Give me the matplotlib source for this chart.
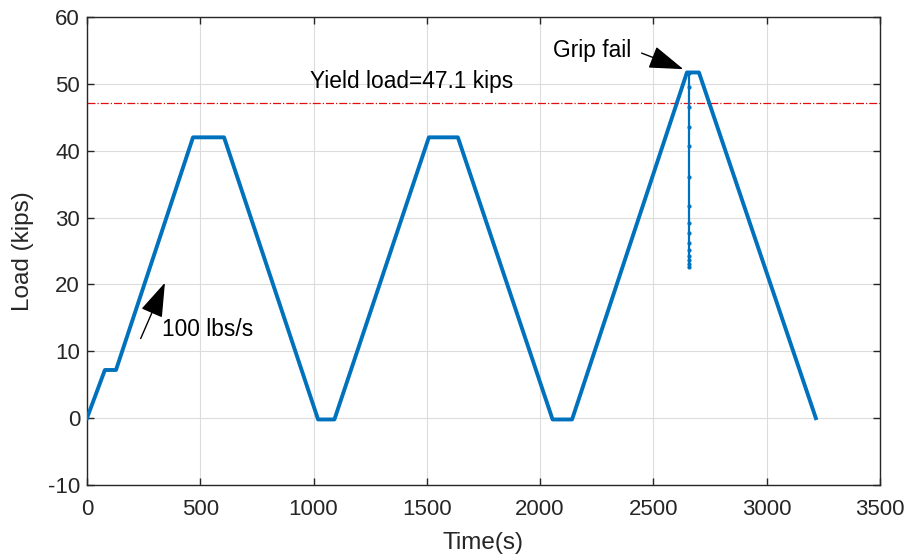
import matplotlib
matplotlib.use("Agg")
import matplotlib.pyplot as plt
from matplotlib.patches import ArrowStyle

plt.rcParams['font.family'] = ['Liberation Sans', 'DejaVu Sans']
plt.rcParams['axes.unicode_minus'] = False

# Main load history
time_s = [0, 79, 128, 468, 605, 1020, 1092, 1509, 1637, 2055, 2141, 2648, 2701, 3217]
load_kips = [0, 7.2, 7.2, 42.0, 42.0, -0.2, -0.2, 42.0, 42.0, -0.2, -0.2, 51.7, 51.7, 0]

# Grip failure drop (sampled points)
drop_time = [2657] * 15
drop_load = [51.6, 49.5, 46.5, 43.6, 40.7, 36.0, 31.8, 29.2, 27.7, 26.2, 25.2, 24.2, 23.7, 23.1, 22.6]

yield_load = 47.1

xticks = [0, 500, 1000, 1500, 2000, 2500, 3000, 3500]
yticks = [-10, 0, 10, 20, 30, 40, 50, 60]

fig = plt.figure(figsize=(9.07, 5.59), dpi=100)
ax = fig.add_axes([0.0959, 0.1324, 0.8743, 0.8372])

blue = '#0072BD'
ax.plot(time_s, load_kips, color=blue, lw=2.8, solid_joinstyle='round', zorder=3)
ax.plot(drop_time, drop_load, color=blue, lw=1.6, marker='.', markersize=4, zorder=3)
ax.axhline(yield_load, color='#e01010', lw=0.9, ls='-.', zorder=2)

ax.set_xlim(0, 3500)
ax.set_ylim(-10, 60)
ax.set_xticks(xticks)
ax.set_yticks(yticks)
ax.grid(True, color='#dcdcdc', lw=0.8)
ax.set_axisbelow(True)
ax.tick_params(direction='in', top=True, right=True, labelsize=16, colors='#262626',
               length=5, width=1, pad=5)
ax.tick_params(axis='x', pad=10)
for s in ax.spines.values():
    s.set_color('#262626')
    s.set_linewidth(1)

ax.set_xlabel('Time(s)', fontsize=17.5, color='#262626', labelpad=9)
ax.set_ylabel('Load (kips)', fontsize=17.5, color='#262626', labelpad=10)

ax.text(984, 50.3, 'Yield load=47.1 kips', fontsize=16.4, va='center', ha='left', color='k')
ax.text(2057, 55.05, 'Grip fail', fontsize=16.4, va='center', ha='left', color='k')
ax.text(330, 13.2, '100 lbs/s', fontsize=16.4, va='center', ha='left', color='k')

astyle = ArrowStyle('-|>', head_length=1.2, head_width=0.4)
ax.annotate('', xy=(2632, 52.2), xytext=(2448, 54.6),
            arrowprops=dict(arrowstyle=astyle, color='k', lw=1, mutation_scale=18,
                            shrinkA=0, shrinkB=0))
ax.annotate('', xy=(344, 20.25), xytext=(237, 11.9),
            arrowprops=dict(arrowstyle=astyle, color='k', lw=1, mutation_scale=18,
                            shrinkA=0, shrinkB=0))

fig.savefig('out.png', dpi=100)
